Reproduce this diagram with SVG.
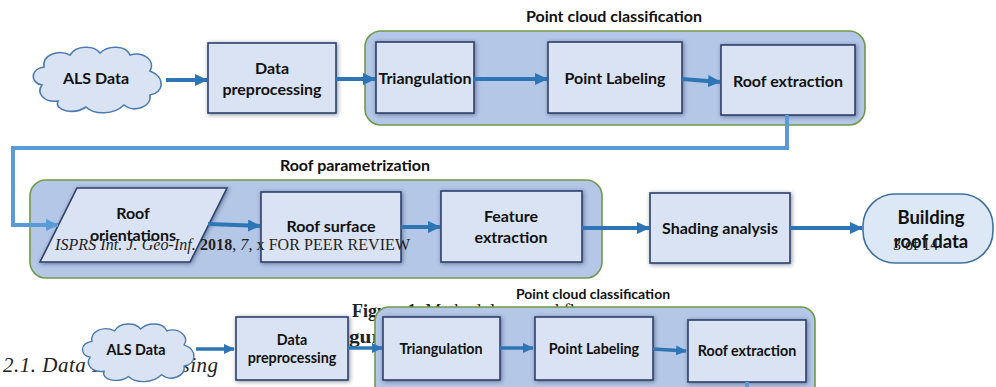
<svg xmlns="http://www.w3.org/2000/svg" width="996" height="387" viewBox="0 0 996 387">
<defs>
<style>
.grp{fill:#b4c7e7;stroke:#6f9a4b;stroke-width:1.6}
.box{fill:#dae3f3;stroke:#2f3f6b;stroke-width:1.6;filter:url(#sh)}
.cloud{fill:#dae3f3;stroke:#4a7ab0;stroke-width:1.6}
.lbl{font-family:Lato,"Liberation Sans",sans-serif;font-weight:bold;font-size:16px;fill:#111;text-anchor:middle}
.lbls{font-family:Lato,"Liberation Sans",sans-serif;font-weight:bold;font-size:14.3px;fill:#111;text-anchor:middle}
.ttl{font-family:Lato,"Liberation Sans",sans-serif;font-weight:bold;font-size:16px;fill:#111;text-anchor:middle}
.ttls{font-family:Lato,"Liberation Sans",sans-serif;font-weight:bold;font-size:14px;fill:#111;text-anchor:middle}
.arr{fill:none;stroke:#2e75b6;stroke-width:4;marker-end:url(#ah)}
.arrs{fill:none;stroke:#2e75b6;stroke-width:3.5;marker-end:url(#ahs)}
.lnk{fill:none;stroke:#5b9bd5;stroke-width:4}
.pdf{font-family:"Liberation Serif","DejaVu Serif",serif;fill:#222}
</style>
<filter id="sh" x="-20%" y="-20%" width="140%" height="140%">
<feDropShadow dx="1" dy="1" stdDeviation="2" flood-color="#1f2f4f" flood-opacity="0.55"/>
</filter>
<marker id="ah" markerUnits="userSpaceOnUse" markerWidth="13" markerHeight="12" refX="12" refY="6" orient="auto">
<path d="M0,0 L13,6 L0,12 z" fill="#2e75b6"/>
</marker>
<marker id="ahs" markerUnits="userSpaceOnUse" markerWidth="11" markerHeight="10" refX="10" refY="5" orient="auto">
<path d="M0,0 L11,5 L0,10 z" fill="#2e75b6"/>
</marker>
<marker id="ahl" markerUnits="userSpaceOnUse" markerWidth="13" markerHeight="12" refX="12" refY="6" orient="auto">
<path d="M0,0 L13,6 L0,12 z" fill="#5b9bd5"/>
</marker>
<path id="cloudShape" d="M14,40 C2,38 2,24 16,22 C14,10 30,4 42,10 C48,0 66,0 72,8 C80,0 98,0 102,10 C116,6 128,16 122,26 C138,32 136,48 122,50 C124,62 106,68 96,60 C86,70 66,70 58,62 C46,70 26,66 30,56 C16,58 8,48 14,40 Z"/>
</defs>

<!-- top diagram containers -->
<g id="grp-pcc">
<rect class="grp" x="365" y="31" width="500" height="94" rx="16"/>
<text class="ttl" x="614" y="22">Point cloud classification</text>
</g>
<g id="grp-rp">
<rect class="grp" x="30" y="180" width="572" height="98" rx="16"/>
<text class="ttl" x="355" y="171">Roof parametrization</text>
</g>

<!-- top nodes -->
<g id="als">
<use href="#cloudShape" class="cloud" transform="translate(28,45)"/>
<text class="lbl" x="96" y="84">ALS Data</text>
</g>
<g id="prep">
<rect class="box" x="208" y="43" width="128" height="70"/>
<text class="lbl" x="272" y="74">Data</text>
<text class="lbl" x="272" y="95">preprocessing</text>
</g>
<g id="tri">
<rect class="box" x="376" y="42" width="98" height="71"/>
<text class="lbl" x="425" y="84">Triangulation</text>
</g>
<g id="plab">
<rect class="box" x="548" y="42" width="134" height="71"/>
<text class="lbl" x="615" y="84">Point Labeling</text>
</g>
<g id="rext">
<rect class="box" x="721" y="45" width="134" height="70"/>
<text class="lbl" x="788" y="87">Roof extraction</text>
</g>
<g id="rori">
<path class="box" d="M77,188 L227,188 L190,262 L40,262 Z"/>
<text class="lbl" x="133" y="219">Roof</text>
<text class="lbl" x="133" y="241">orientations</text>
</g>
<g id="rsurf">
<rect class="box" x="261" y="192" width="140" height="70"/>
<text class="lbl" x="331" y="232">Roof surface</text>
</g>
<g id="feat">
<rect class="box" x="441" y="191" width="141" height="71"/>
<text class="lbl" x="511" y="222">Feature</text>
<text class="lbl" x="511" y="243">extraction</text>
</g>
<g id="shade">
<rect class="box" x="650" y="193" width="140" height="70"/>
<text class="lbl" x="720" y="234">Shading analysis</text>
</g>
<g id="bld">
<rect x="863" y="194" width="130" height="69" rx="32" fill="#dce8f5" stroke="#41719c" stroke-width="1.6"/>
<text class="lbl" style="font-size:18.5px" x="931" y="224">Building</text>
<text class="lbl" style="font-size:18.5px" x="931" y="248">roof data</text>
</g>

<!-- top connectors -->
<g id="connectors">
<path class="arr" d="M166,80 L207,80"/>
<path class="arr" d="M336,79 L375,79"/>
<path class="arr" d="M474,79 L547,79"/>
<path class="arr" d="M682,79 L720,82"/>
<path class="lnk" d="M787,115 L787,148 L13,148 L13,225 L58,225" marker-end="url(#ahl)"/>
<path class="arr" d="M208,224 L260,226"/>
<path class="arr" d="M401,227 L440,227"/>
<path class="arr" d="M582,228 L649,228"/>
<path class="arr" d="M790,228 L862,228"/>
</g>

<!-- page overlay text -->
<text class="pdf" x="55" y="250" font-size="16" textLength="355" lengthAdjust="spacing"><tspan font-style="italic">ISPRS Int. J. Geo-Inf.</tspan> <tspan font-weight="bold">2018</tspan>, <tspan font-style="italic">7</tspan>, x FOR PEER REVIEW</text>
<text class="pdf" x="893" y="250" font-size="16">3 of 14</text>
<text class="pdf" x="352" y="317" font-size="18"><tspan font-weight="bold">Figure 1.</tspan> Methodology workflow.</text>
<text class="pdf" x="330" y="343" font-size="18" font-weight="bold" textLength="60" lengthAdjust="spacingAndGlyphs">Figure</text>
<text class="pdf" x="3" y="372" font-size="21" font-style="italic" textLength="215" lengthAdjust="spacing">2.1. Data Preprocessing</text>

<!-- lower copy -->
<g id="grp-pcc2">
<rect class="grp" x="375" y="307" width="440" height="110" rx="14"/>
<text class="ttls" x="593" y="299">Point cloud classification</text>
</g>
<g id="als2">
<use href="#cloudShape" class="cloud" transform="translate(78,322) scale(0.87,0.88)"/>
<text class="lbls" x="136" y="355">ALS Data</text>
</g>
<g id="prep2">
<rect class="box" x="236" y="317" width="112" height="63"/>
<text class="lbls" x="292" y="345">Data</text>
<text class="lbls" x="292" y="363">preprocessing</text>
</g>
<g id="tri2">
<rect class="box" x="383" y="317" width="117" height="63"/>
<text class="lbls" x="441" y="354">Triangulation</text>
</g>
<g id="plab2">
<rect class="box" x="535" y="317" width="118" height="63"/>
<text class="lbls" x="594" y="354">Point Labeling</text>
</g>
<g id="rext2">
<rect class="box" x="688" y="320" width="118" height="62"/>
<text class="lbls" x="747" y="356">Roof extraction</text>
</g>
<g id="connectors2">
<path class="arrs" d="M196,349 L234,349"/>
<path class="arrs" d="M348,348 L382,348"/>
<path class="arrs" d="M500,348 L533,348"/>
<path class="arrs" d="M653,349 L686,351"/>
<path class="lnk" d="M747,382 L747,390"/>
</g>
</svg>
